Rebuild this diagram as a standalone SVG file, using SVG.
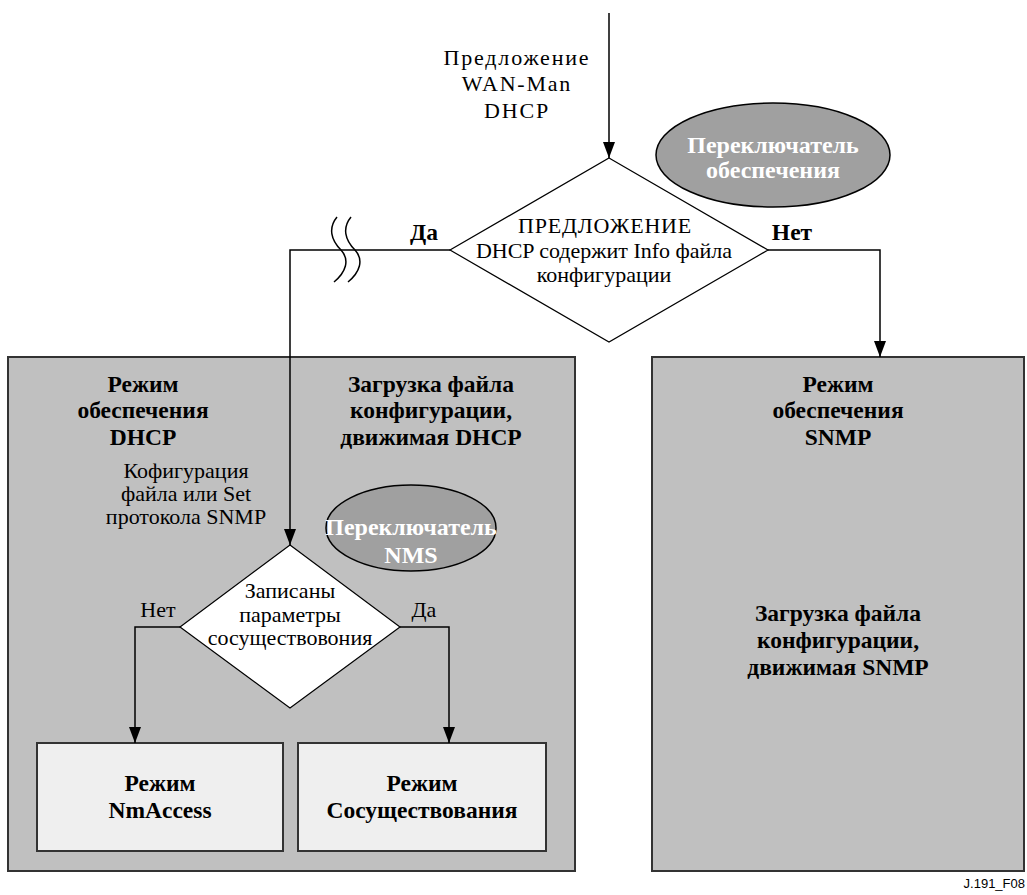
<svg xmlns="http://www.w3.org/2000/svg" width="1027" height="895" viewBox="0 0 1027 895">
  <style>
    text { font-family: "Liberation Serif", "Times New Roman", serif; font-size: 22px; fill: #000; text-anchor: middle; }
    .b { font-weight: bold; font-size: 23.5px; }
    .w { fill: #fff; font-weight: bold; font-size: 24px; }
    .sp { letter-spacing: 1.8px; }
    .sp1 { letter-spacing: 0.8px; }
    .lbl { font-family: "Liberation Sans", Arial, sans-serif; font-size: 13px; text-anchor: end; }
    .mode { fill: #c0c0c0; stroke: #333; stroke-width: 2; }
    .sub { fill: #efefef; stroke: #333; stroke-width: 2; }
    .dec { fill: #fff; stroke: #000; stroke-width: 1.2; }
    .sw { fill: #a0a0a0; stroke: #000; stroke-width: 1.5; }
    .ln { fill: none; stroke: #000; stroke-width: 1.5; }
  </style>
  <defs>
    <marker id="arr" markerWidth="16" markerHeight="12" refX="16" refY="6" orient="auto" markerUnits="userSpaceOnUse" viewBox="0 0 16 12">
      <path d="M0,0 L16,6 L0,12 Z" fill="#000"/>
    </marker>
  </defs>

  <!-- mode containers -->
  <g id="dhcp-mode">
    <rect class="mode" x="8" y="357" width="567" height="514"/>
    <text class="b" x="143" y="392">Режим</text>
    <text class="b" x="143" y="418">обеспечения</text>
    <text class="b" x="143" y="445">DHCP</text>
    <text class="b" x="431" y="392">Загрузка файла</text>
    <text class="b" x="431" y="418">конфигурации,</text>
    <text class="b" x="431" y="445">движимая DHCP</text>
    <text x="186" y="478">Кофигурация</text>
    <text x="186" y="501">файла или Set</text>
    <text x="186" y="524">протокола SNMP</text>
  </g>

  <g id="snmp-mode">
    <rect class="mode" x="652" y="357" width="372" height="514"/>
    <text class="b" x="838" y="392">Режим</text>
    <text class="b" x="838" y="418">обеспечения</text>
    <text class="b" x="838" y="445">SNMP</text>
    <text class="b" x="838" y="621">Загрузка файла</text>
    <text class="b" x="838" y="648">конфигурации,</text>
    <text class="b" x="838" y="675">движимая SNMP</text>
  </g>

  <!-- incoming offer label -->
  <g id="offer-label">
    <text class="sp" x="517" y="65">Предложение</text>
    <text class="sp" x="517" y="91">WAN-Man</text>
    <text class="sp" x="517" y="118">DHCP</text>
  </g>

  <!-- switches -->
  <g id="provisioning-switch">
    <ellipse class="sw" cx="773" cy="155" rx="117" ry="52"/>
    <text class="w" x="773" y="153">Переключатель</text>
    <text class="w" x="773" y="178">обеспечения</text>
  </g>

  <g id="nms-switch">
    <ellipse class="sw" cx="411" cy="528" rx="85" ry="43"/>
    <text class="w" x="411" y="535">Переключатель</text>
    <text class="w" x="411" y="563">NMS</text>
  </g>

  <!-- decisions -->
  <g id="offer-decision">
    <polygon class="dec" points="609,158 768,250 609,342 450,250"/>
    <text class="sp1" x="605" y="233">ПРЕДЛОЖЕНИЕ</text>
    <text x="604" y="258">DHCP содержит Info файла</text>
    <text x="604" y="282">конфигурации</text>
  </g>

  <g id="coexist-decision">
    <polygon class="dec" points="290,545 400,627 290,708 180,627"/>
    <text x="290" y="598">Записаны</text>
    <text x="290" y="622">параметры</text>
    <text x="290" y="645">сосуществовония</text>
  </g>

  <!-- target modes -->
  <g id="nmaccess-mode">
    <rect class="sub" x="37" y="743" width="246" height="108"/>
    <text class="b" x="160" y="791">Режим</text>
    <text class="b" x="160" y="818">NmAccess</text>
  </g>

  <g id="coexistence-mode">
    <rect class="sub" x="298" y="743" width="248" height="108"/>
    <text class="b" x="422" y="791">Режим</text>
    <text class="b" x="422" y="818">Сосуществования</text>
  </g>

  <!-- connectors -->
  <g id="connectors">
    <line class="ln" x1="609" y1="13" x2="609" y2="158" marker-end="url(#arr)"/>
    <polyline class="ln" points="450,250 290,250 290,545" marker-end="url(#arr)"/>
    <polyline class="ln" points="768,250 880,250 880,357" marker-end="url(#arr)"/>
    <polyline class="ln" points="180,627 135,627 135,743" marker-end="url(#arr)"/>
    <polyline class="ln" points="400,627 449,627 449,743" marker-end="url(#arr)"/>
    <!-- line break mark -->
    <path class="ln" d="M337,217 C328,228 331,240 341,250 C350,260 346,272 334,282"/>
    <path class="ln" d="M351,217 C342,228 345,240 355,250 C364,260 360,272 348,282"/>
    <text class="b" x="424" y="240">Да</text>
    <text class="b" x="792" y="240">Нет</text>
    <text x="158" y="617">Нет</text>
    <text x="424" y="617">Да</text>
  </g>

  <text class="lbl" x="1025" y="888">J.191_F08</text>
</svg>
